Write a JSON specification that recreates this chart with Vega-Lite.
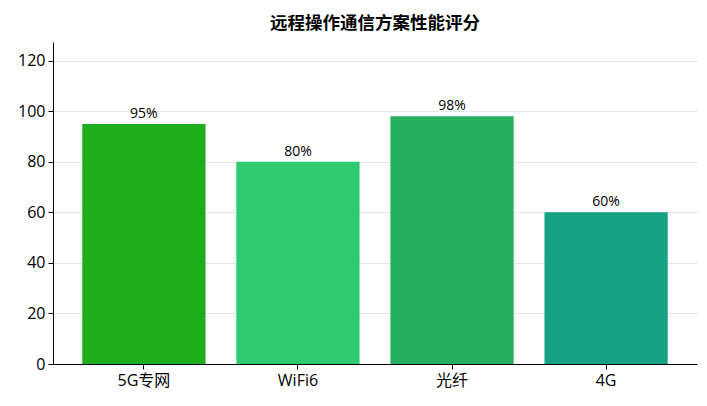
{
  "$schema": "https://vega.github.io/schema/vega-lite/v6.json",
  "width": 644,
  "height": 322,
  "autosize": "none",
  "padding": {"left": 53, "top": 42, "right": 10, "bottom": 42},
  "background": "white",
  "title": {"text": "远程操作通信方案性能评分", "font": "Noto Sans CJK SC", "fontSize": 17.5, "fontWeight": "bold", "color": "#000000", "offset": 10, "anchor": "middle"},
  "data": {"values": [
    {"name": "5G专网", "score": 95, "label": "95%", "color": "#1dad1d"},
    {"name": "WiFi6", "score": 80, "label": "80%", "color": "#2ecc71"},
    {"name": "光纤", "score": 98, "label": "98%", "color": "#27ae60"},
    {"name": "4G", "score": 60, "label": "60%", "color": "#16a085"}
  ]},
  "encoding": {
    "x": {"field": "name", "type": "nominal", "sort": null,
      "scale": {"paddingInner": 0.2, "paddingOuter": 0.19},
      "axis": {"title": null, "labelAngle": 0, "labelFont": "Open Sans, Noto Sans CJK SC", "labelFontSize": 16, "labelColor": "#000000", "domainColor": "#000000", "tickColor": "#000000", "tickSize": 5, "labelPadding": 3, "grid": false}},
    "y": {"field": "score", "type": "quantitative",
      "scale": {"domain": [0, 127.4], "nice": false},
      "axis": {"title": null, "values": [0, 20, 40, 60, 80, 100, 120], "labelFont": "Open Sans", "labelFontSize": 16, "labelColor": "#000000", "domainColor": "#000000", "tickColor": "#000000", "tickSize": 5, "labelPadding": 3, "grid": true, "gridColor": "#e6e6e6", "gridWidth": 1}}
  },
  "layer": [
    {"mark": {"type": "bar"}, "encoding": {"color": {"field": "color", "type": "nominal", "scale": null}}},
    {"mark": {"type": "text", "baseline": "bottom", "dy": -3, "font": "Open Sans", "fontSize": 14, "color": "#000000"}, "encoding": {"text": {"field": "label"}}}
  ],
  "config": {"view": {"stroke": null}, "axis": {"domainWidth": 1}}
}
